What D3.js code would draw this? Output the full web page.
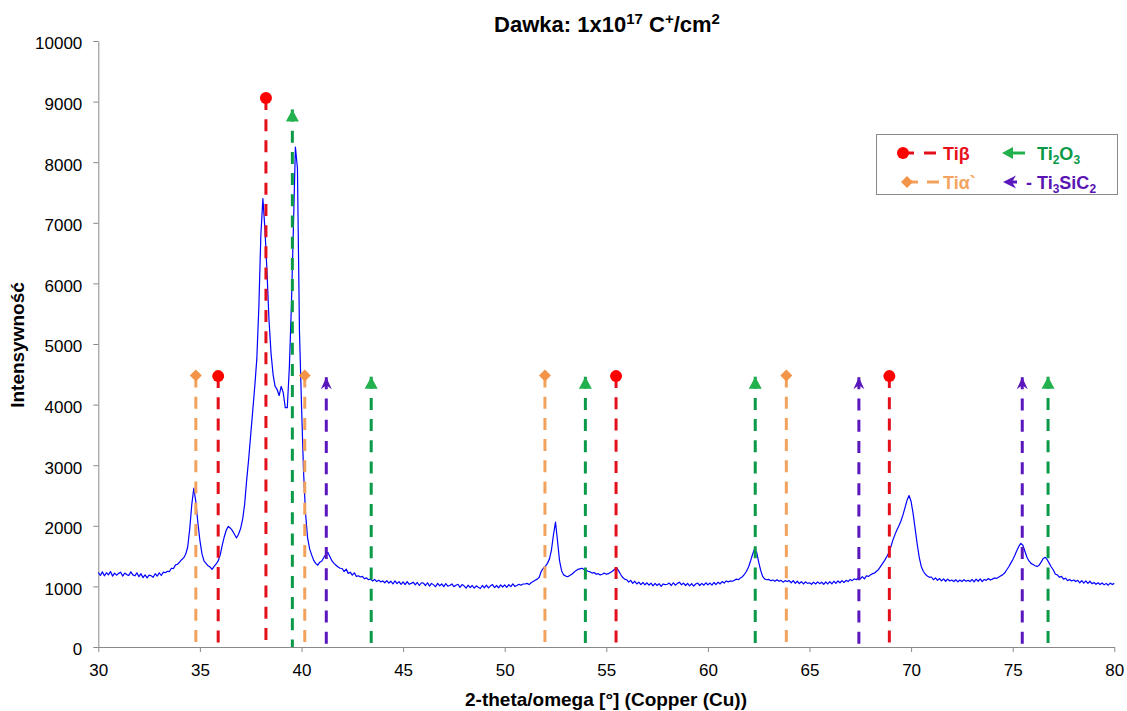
<!DOCTYPE html>
<html><head><meta charset="utf-8">
<script src="https://cdn.jsdelivr.net/npm/d3@7"></script>
<style>
html,body{margin:0;padding:0;background:#fff;}
svg{display:block;font-family:"Liberation Sans",Arial,sans-serif;}
</style></head><body>
<svg id="chart" width="1127" height="711"></svg>
<script>
// ---- data ----
const scanStart = 30, scanStep = 0.1;
const intensity = [
1230,1180,1240,1175,1225,1190,1245,1170,1220,1185,
1215,1235,1170,1220,1195,1180,1240,1190,1175,1225,
1160,1210,1145,1190,1140,1185,1175,1150,1210,1170,
1225,1180,1235,1225,1250,1245,1300,1295,1355,1365,
1400,1440,1470,1530,1650,1950,2350,2620,2400,2050,
1760,1540,1420,1380,1340,1320,1280,1330,1370,1420,
1520,1680,1820,1930,1990,1960,1920,1860,1800,1860,
1950,2100,2350,2750,3100,3500,3900,4300,4750,5600,
6800,7400,6900,6200,5400,4850,4500,4300,4250,4150,
4300,4200,3950,3950,4600,5600,6900,8250,7900,5200,
4000,2900,2200,1800,1620,1520,1430,1380,1350,1400,
1420,1480,1530,1560,1490,1420,1380,1350,1320,1300,
1295,1245,1285,1215,1235,1185,1225,1165,1175,1155,
1165,1125,1140,1110,1120,1090,1115,1080,1100,1075,
1090,1060,1095,1055,1085,1040,1090,1045,1080,1035,
1075,1030,1080,1035,1050,1070,1025,1065,1015,1060,
1055,1015,1060,1005,1050,1025,995,1050,1010,1040,
995,1045,1005,1015,1040,995,1020,1035,985,1030,
1010,970,1020,980,1015,970,1010,985,965,1015,
975,1020,975,1010,1030,980,1015,975,1025,990,
1025,985,1030,995,1040,1000,1015,1035,1020,1040,
1040,1050,1030,1060,1080,1100,1120,1150,1250,1300,
1330,1380,1450,1600,1850,2060,1750,1420,1260,1190,
1170,1160,1180,1200,1230,1260,1280,1290,1300,1280,
1270,1250,1240,1220,1230,1200,1210,1190,1200,1220,
1200,1210,1230,1250,1280,1310,1260,1200,1150,1120,
1110,1070,1100,1050,1085,1040,1070,1030,1065,1025,
1060,1020,1055,1010,1050,1015,1045,1000,1040,1030,
1035,1055,1015,1060,1020,1050,1070,1025,1055,1015,
1050,1010,1045,1005,1040,1055,1015,1050,1020,1060,
1025,1055,1020,1065,1030,1070,1040,1080,1055,1090,
1075,1090,1085,1100,1120,1110,1140,1160,1200,1250,
1320,1420,1530,1620,1560,1400,1260,1160,1120,1110,
1115,1095,1105,1085,1110,1085,1100,1070,1095,1080,
1095,1060,1095,1050,1085,1045,1080,1040,1075,1050,
1060,1035,1070,1040,1075,1045,1070,1035,1075,1040,
1080,1040,1085,1050,1090,1060,1095,1065,1100,1080,
1115,1095,1125,1110,1140,1125,1160,1125,1175,1165,
1190,1210,1220,1250,1280,1330,1380,1430,1490,1550,
1650,1760,1850,1930,2000,2080,2180,2300,2420,2500,
2400,2200,1950,1700,1480,1330,1250,1200,1170,1150,
1155,1110,1140,1100,1130,1090,1125,1085,1120,1090,
1105,1080,1110,1075,1105,1080,1110,1085,1100,1080,
1115,1075,1120,1085,1125,1080,1115,1100,1130,1105,
1120,1140,1130,1150,1170,1190,1220,1270,1320,1380,
1440,1510,1590,1660,1710,1680,1580,1480,1420,1380,
1360,1340,1330,1350,1400,1460,1480,1440,1380,1320,
1270,1200,1190,1150,1165,1120,1135,1095,1115,1090,
1105,1080,1100,1060,1095,1055,1090,1050,1085,1045,
1065,1035,1060,1030,1055,1025,1050,1020,1055,1030,
1050
];
const xTicks = [30,35,40,45,50,55,60,65,70,75,80];
const yTicks = [0,1000,2000,3000,4000,5000,6000,7000,8000,9000,10000];

const tiBetaPos  = [35.9, 38.25, 55.48, 68.93];
const tiBetaTop  = [4470, 9060, 4470, 4470];
const ti2o3Pos   = [39.55, 43.43, 53.97, 62.33, 76.74];
const ti2o3Top   = [8870, 4460, 4460, 4460, 4460];
const tiAlphaPos = [34.8, 40.16, 51.98, 63.86];
const tiAlphaTop = [4480, 4480, 4480, 4480];
const ti3sic2Pos = [41.22, 67.43, 75.47];
const ti3sic2Top = [4450, 4450, 4450];

// ---- chart ----
const svg = d3.select("#chart");
const x = d3.scaleLinear().domain([30, 80]).range([98.3, 1114.3]);
const y = d3.scaleLinear().domain([0, 10000]).range([647, 41]);
const axisColor = "#898989";

// axes
const gx = svg.append("g").attr("transform", "translate(0,647)")
  .call(d3.axisBottom(x).tickValues(xTicks).tickSize(5).tickSizeOuter(0).tickPadding(12).tickFormat(d3.format("d")));
const gy = svg.append("g").attr("transform", "translate(98.3,0)")
  .call(d3.axisLeft(y).tickValues(yTicks).tickSize(5).tickSizeOuter(0).tickPadding(11).tickFormat(d3.format("d")));
[gx, gy].forEach(g => {
  g.select(".domain").attr("stroke", axisColor);
  g.selectAll(".tick line").attr("stroke", axisColor);
  g.selectAll(".tick text").attr("fill", "#000").attr("font-size", 17)
    .attr("font-family", "'Liberation Sans', Arial, sans-serif");
});
gy.selectAll(".tick text").attr("dy", "0.46em");

// spectrum
const pts = intensity.map((v, i) => [scanStart + i * scanStep, v]);
svg.append("path").datum(pts)
  .attr("fill", "none").attr("stroke", "#0000ff").attr("stroke-width", 1.2)
  .attr("stroke-linejoin", "round")
  .attr("d", d3.line().x(d => x(d[0])).y(d => y(d[1])));

// phase markers
const phases = [
  {pos: tiAlphaPos, top: tiAlphaTop, line: "#f2a25c", fill: "#f39448", shape: "diamond"},
  {pos: tiBetaPos, top: tiBetaTop, line: "#e3101c", fill: "#ff0000", shape: "circle"},
  {pos: ti2o3Pos, top: ti2o3Top, line: "#0a9a48", fill: "#22b14c", shape: "triangle"},
  {pos: ti3sic2Pos, top: ti3sic2Top, line: "#5a17bd", fill: "#5a17bd", shape: "stealth"}
];
function drawMarker(g, shape, cx, cy, fill) {
  if (shape === "circle") {
    g.append("circle").attr("cx", cx).attr("cy", cy).attr("r", 6).attr("fill", fill);
  } else if (shape === "diamond") {
    g.append("path").attr("d", `M${cx},${cy-6}L${cx+6},${cy}L${cx},${cy+6}L${cx-6},${cy}Z`).attr("fill", fill);
  } else if (shape === "triangle") {
    g.append("path").attr("d", `M${cx},${cy}L${cx+6.5},${cy+12}L${cx-6.5},${cy+12}Z`).attr("fill", fill);
  } else {
    g.append("path").attr("d", `M${cx},${cy}L${cx+5.5},${cy+12}L${cx},${cy+8}L${cx-5.5},${cy+12}Z`).attr("fill", fill);
  }
}
const gm = svg.append("g");
phases.forEach(p => {
  p.pos.forEach((v, i) => {
    gm.append("line")
      .attr("x1", x(v)).attr("x2", x(v))
      .attr("y1", y(p.top[i])).attr("y2", y(0))
      .attr("stroke", p.line).attr("stroke-width", 3)
      .attr("stroke-dasharray", "12,9.2");
    drawMarker(gm, p.shape, x(v), y(p.top[i]), p.fill);
  });
});

// legend
const lg = svg.append("g");
lg.append("rect").attr("x", 876.5).attr("y", 134.5).attr("width", 241).attr("height", 60)
  .attr("fill", "#fff").attr("stroke", "#8a8a8a").attr("stroke-width", 1);
// row 1 left: Tiβ
lg.append("line").attr("x1", 903).attr("x2", 914).attr("y1", 153).attr("y2", 153).attr("stroke", "#e3101c").attr("stroke-width", 3);
lg.append("line").attr("x1", 924).attr("x2", 936).attr("y1", 153).attr("y2", 153).attr("stroke", "#e3101c").attr("stroke-width", 3);
lg.append("circle").attr("cx", 903).attr("cy", 153).attr("r", 6).attr("fill", "#ff0000");
lg.append("text").attr("x", 943).attr("y", 159.5).attr("font-size", 18).attr("font-weight", "bold")
  .attr("fill", "#e8101a").text("Tiβ");
// row 2 left: Tiα`
lg.append("line").attr("x1", 907).attr("x2", 918).attr("y1", 182).attr("y2", 182).attr("stroke", "#f2a25c").attr("stroke-width", 3);
lg.append("line").attr("x1", 927).attr("x2", 939).attr("y1", 182).attr("y2", 182).attr("stroke", "#f2a25c").attr("stroke-width", 3);
lg.append("path").attr("d", "M907,176L913,182L907,188L901,182Z").attr("fill", "#f39448");
lg.append("text").attr("x", 943).attr("y", 188.5).attr("font-size", 18).attr("font-weight", "bold")
  .attr("fill", "#f4a460").text("Tiα`");
// row 1 right: Ti2O3
lg.append("line").attr("x1", 1008).attr("x2", 1025).attr("y1", 153).attr("y2", 153).attr("stroke", "#22b14c").attr("stroke-width", 3);
lg.append("path").attr("d", "M1002,153L1013,147L1013,159Z").attr("fill", "#22b14c");
const t1 = lg.append("text").attr("x", 1037).attr("y", 159.5).attr("font-size", 18).attr("font-weight", "bold").attr("fill", "#0a9a48");
t1.append("tspan").text("Ti");
t1.append("tspan").attr("font-size", 12).attr("dy", 4).text("2");
t1.append("tspan").attr("dy", -4).text("O");
t1.append("tspan").attr("font-size", 12).attr("dy", 4).text("3");
// row 2 right: Ti3SiC2
lg.append("line").attr("x1", 1008).attr("x2", 1017).attr("y1", 182).attr("y2", 182).attr("stroke", "#5a17bd").attr("stroke-width", 3);
lg.append("path").attr("d", "M1003,182L1016,175.5L1012,182L1016,188.5Z").attr("fill", "#5a17bd");
const t2 = lg.append("text").attr("x", 1026).attr("y", 188.5).attr("font-size", 18).attr("font-weight", "bold").attr("fill", "#5a14b4");
t2.append("tspan").text("- Ti");
t2.append("tspan").attr("font-size", 12).attr("dy", 4).text("3");
t2.append("tspan").attr("dy", -4).text("SiC");
t2.append("tspan").attr("font-size", 12).attr("dy", 4).text("2");

// title
const title = svg.append("text").attr("x", 607).attr("y", 32).attr("text-anchor", "middle")
  .attr("font-size", 22).attr("font-weight", "bold").attr("fill", "#000");
title.append("tspan").text("Dawka: 1x10");
title.append("tspan").attr("font-size", 15).attr("dy", -8).text("17");
title.append("tspan").attr("dy", 8).text(" C");
title.append("tspan").attr("font-size", 15).attr("dy", -8).text("+");
title.append("tspan").attr("dy", 8).text("/cm");
title.append("tspan").attr("font-size", 15).attr("dy", -8).text("2");

// axis titles
svg.append("text").attr("x", 606).attr("y", 706).attr("text-anchor", "middle")
  .attr("font-size", 19).attr("font-weight", "bold").attr("fill", "#000")
  .text("2-theta/omega [°] (Copper (Cu))");
svg.append("text").attr("transform", "translate(24,345) rotate(-90)").attr("text-anchor", "middle")
  .attr("font-size", 19).attr("font-weight", "bold").attr("fill", "#000")
  .text("Intensywność");
</script>
</body></html>
